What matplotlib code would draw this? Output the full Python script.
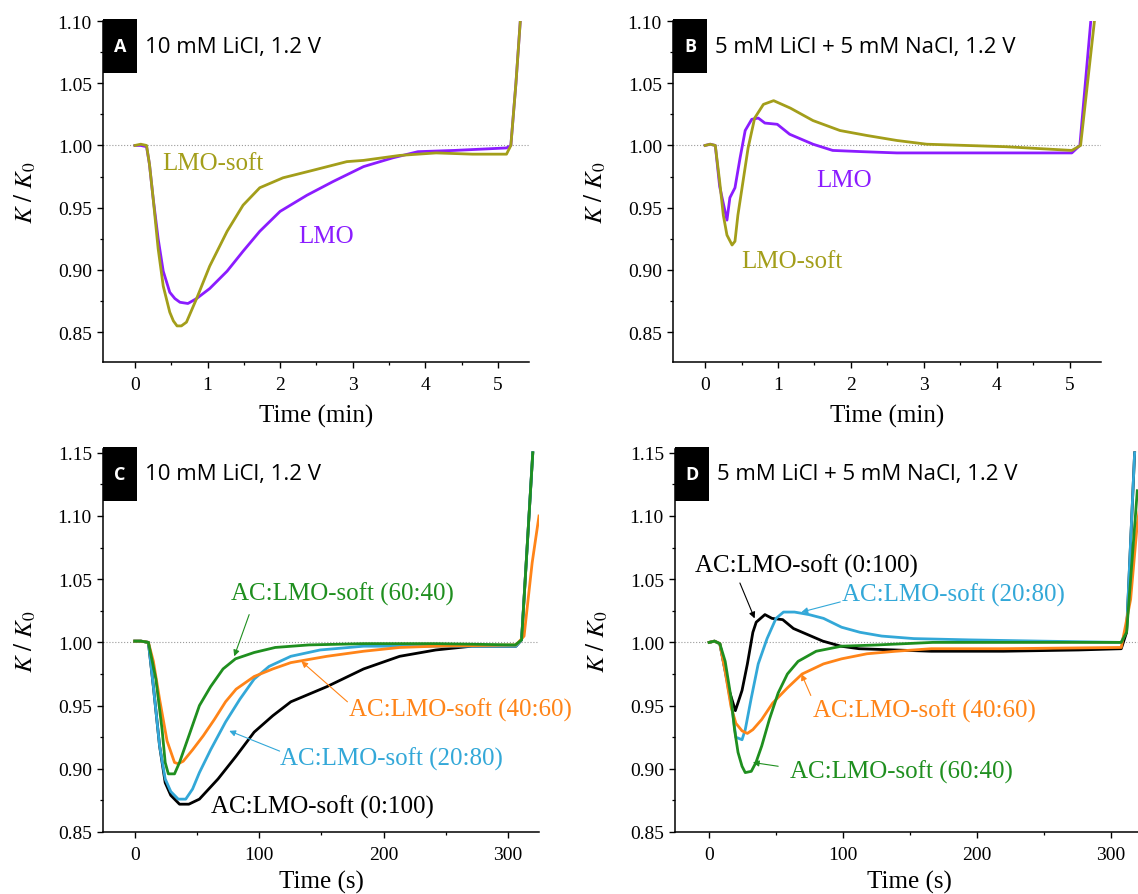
import matplotlib
matplotlib.use('Agg')
import matplotlib.pyplot as plt
from matplotlib.patches import Rectangle
from matplotlib.ticker import MultipleLocator, FormatStrFormatter

plt.rcParams['font.family'] = ['Liberation Serif', 'DejaVu Serif']
plt.rcParams['mathtext.fontset'] = 'stix'

# colours
c_lmo = '#8B1CFF'
c_soft = '#A39E1A'
c_0100 = '#000000'
c_2080 = '#33A8D8'
c_4060 = '#FF8418'
c_6040 = '#1F8F1F'

# ---- panel A: 10 mM LiCl (time in min)
a_soft_t = [0, 0.08, 0.16, 0.2, 0.25, 0.32, 0.39, 0.48, 0.53, 0.58, 0.64, 0.71, 0.85, 1.03, 1.27, 1.49, 1.72,
            2.04, 2.45, 2.92, 3.15, 3.65, 4.15, 4.65, 5.12, 5.18, 5.25, 5.31]
a_soft_y = [1.000, 1.001, 1.000, 0.985, 0.958, 0.917, 0.887, 0.866, 0.859, 0.855, 0.855, 0.858, 0.877, 0.903, 0.931,
            0.952, 0.966, 0.974, 0.980, 0.987, 0.988, 0.992, 0.994, 0.993, 0.993, 1.000, 1.050, 1.100]
a_lmo_t = [0, 0.08, 0.16, 0.2, 0.25, 0.32, 0.39, 0.48, 0.55, 0.62, 0.73, 0.85, 1.03, 1.27, 1.49, 1.72,
           2.0, 2.37, 2.73, 3.15, 3.55, 3.9, 4.4, 5.12, 5.18, 5.25, 5.31]
a_lmo_y = [1.000, 1.000, 0.999, 0.985, 0.958, 0.925, 0.899, 0.882, 0.877, 0.874, 0.873, 0.877, 0.885, 0.899,
           0.915, 0.931, 0.947, 0.960, 0.971, 0.983, 0.990, 0.995, 0.996, 0.998, 1.000, 1.050, 1.100]

# ---- panel B: 5 mM LiCl + 5 mM NaCl (time in min)
b_soft_t = [0, 0.07, 0.14, 0.2, 0.25, 0.3, 0.37, 0.41, 0.45, 0.52, 0.59, 0.68, 0.8, 0.94, 1.17,
            1.48, 1.85, 2.22, 2.63, 3.04, 4.12, 5.03, 5.15, 5.34]
b_soft_y = [1.000, 1.001, 1.000, 0.971, 0.944, 0.928, 0.920, 0.923, 0.944, 0.971, 0.998, 1.022,
            1.033, 1.036, 1.030, 1.020, 1.012, 1.008, 1.004, 1.001, 0.999, 0.996, 1.000, 1.100]
b_lmo_t = [0, 0.07, 0.14, 0.2, 0.3, 0.34, 0.41, 0.48, 0.55, 0.64, 0.73, 0.82, 0.99, 1.16, 1.48,
           1.75, 2.16, 2.63, 3.14, 4.12, 5.03, 5.14, 5.29]
b_lmo_y = [1.000, 1.001, 1.000, 0.967, 0.940, 0.958, 0.966, 0.990, 1.012, 1.021, 1.022, 1.018,
           1.017, 1.009, 1.001, 0.996, 0.995, 0.994, 0.994, 0.994, 0.994, 1.000, 1.100]

# ---- panel C: 10 mM LiCl, AC:LMO-soft blends (time in s)
c_0100_t = [0, 5, 11, 15, 20, 24.5, 29, 36, 43.5, 52, 67, 81.5, 96, 111, 125.5, 154.5, 184, 213,
            242, 271, 306.5, 311, 320]
c_0100_y = [1.001, 1.001, 1.000, 0.965, 0.918, 0.889, 0.879, 0.872, 0.872, 0.876, 0.892, 0.910,
            0.929, 0.942, 0.953, 0.965, 0.979, 0.989, 0.994, 0.997, 0.997, 1.002, 1.150]
c_2080_t = [0, 5, 11, 15, 20, 24.5, 29, 35, 41, 46.5, 52, 61, 73, 84.5, 96, 108, 125.5, 149, 184,
            243, 306.5, 311, 320]
c_2080_y = [1.001, 1.001, 1.000, 0.965, 0.918, 0.892, 0.882, 0.876, 0.876, 0.884, 0.897, 0.915,
            0.937, 0.955, 0.971, 0.981, 0.989, 0.994, 0.997, 0.997, 0.997, 1.002, 1.150]
c_4060_t = [0, 5, 11, 15, 20, 26, 32, 35, 39, 46.5, 55, 64, 73, 81.5, 96, 111, 125.5, 154.5, 184,
            213, 242, 306.5, 313, 319.5, 325]
c_4060_y = [1.001, 1.001, 1.000, 0.985, 0.955, 0.922, 0.905, 0.904, 0.906, 0.915, 0.926, 0.939,
            0.953, 0.963, 0.973, 0.979, 0.984, 0.989, 0.993, 0.996, 0.997, 0.998, 1.005, 1.063, 1.100]
c_6040_t = [0, 5, 11, 17, 22, 24.5, 27, 32, 36, 43.5, 52, 61, 71, 81, 96, 113, 140, 184, 243, 306,
            311, 320]
c_6040_y = [1.001, 1.001, 1.000, 0.971, 0.931, 0.905, 0.896, 0.896, 0.905, 0.926, 0.950, 0.965,
            0.979, 0.987, 0.992, 0.996, 0.998, 0.999, 0.999, 0.998, 1.002, 1.150]

# ---- panel D: 5 mM LiCl + 5 mM NaCl, AC:LMO-soft blends (time in s)
d_0100_t = [0, 4, 8, 15, 19.6, 21.5, 24.6, 28.6, 32.7, 35.2, 41.7, 47, 55, 63, 74, 85, 98.5, 112,
            139, 166, 220, 276, 308, 312, 318]
d_0100_y = [1.000, 1.001, 0.999, 0.962, 0.946, 0.952, 0.962, 0.983, 1.008, 1.016, 1.022, 1.019,
            1.018, 1.011, 1.006, 1.001, 0.997, 0.995, 0.994, 0.993, 0.993, 0.994, 0.995, 1.008, 1.150]
d_2080_t = [0, 4, 8, 12, 17.6, 20, 24.6, 27, 31.5, 36.7, 43.3, 50, 55.6, 63.8, 74.6, 85.5, 99,
            112.7, 129, 153, 194, 248, 308, 312, 318]
d_2080_y = [1.000, 1.001, 0.999, 0.977, 0.944, 0.925, 0.923, 0.931, 0.956, 0.983, 1.003, 1.019,
            1.024, 1.024, 1.022, 1.019, 1.012, 1.008, 1.005, 1.003, 1.002, 1.001, 1.000, 1.010, 1.150]
d_4060_t = [0, 4, 8, 12, 16.4, 20, 24.6, 28.6, 32.7, 39.3, 47.5, 58.5, 69.5, 85.5, 99, 118, 139.5,
            166, 220, 308, 315, 320, 325]
d_4060_y = [1.000, 1.001, 0.999, 0.977, 0.949, 0.936, 0.930, 0.928, 0.931, 0.939, 0.952, 0.964,
            0.975, 0.983, 0.987, 0.991, 0.993, 0.995, 0.995, 0.996, 1.034, 1.094, 1.130]
d_6040_t = [0, 4, 8, 12, 16.4, 19, 21.6, 24.6, 27, 31.5, 35, 39.3, 45, 51.6, 58.5, 66.5, 80, 99,
            126, 167, 220, 308, 312, 320]
d_6040_y = [1.000, 1.001, 0.999, 0.985, 0.956, 0.931, 0.913, 0.902, 0.897, 0.898, 0.905, 0.918,
            0.939, 0.960, 0.975, 0.985, 0.993, 0.997, 0.998, 1.000, 1.000, 1.000, 1.008, 1.120]

W, H = 1138, 895
fig = plt.figure(figsize=(W / 100, H / 100), dpi=100)


def px_axes(left, top, right, bottom):
    # axes box given in pixel coords of the picture
    return fig.add_axes([left / W, 1 - bottom / H, (right - left) / W, (bottom - top) / H])


axA = px_axes(103, 22, 529, 363)
axB = px_axes(673, 22, 1101, 363)
axC = px_axes(103, 450, 539, 833)
axD = px_axes(675, 450, 1144, 833)

lw = 2.0
axA.plot(a_lmo_t, a_lmo_y, color=c_lmo, lw=lw)
axA.plot(a_soft_t, a_soft_y, color=c_soft, lw=lw)
axB.plot(b_lmo_t, b_lmo_y, color=c_lmo, lw=lw)
axB.plot(b_soft_t, b_soft_y, color=c_soft, lw=lw)

axC.plot(c_0100_t, c_0100_y, color=c_0100, lw=lw)
axC.plot(c_2080_t, c_2080_y, color=c_2080, lw=lw)
axC.plot(c_4060_t, c_4060_y, color=c_4060, lw=lw)
axC.plot(c_6040_t, c_6040_y, color=c_6040, lw=lw)

axD.plot(d_0100_t, d_0100_y, color=c_0100, lw=lw)
axD.plot(d_2080_t, d_2080_y, color=c_2080, lw=lw)
axD.plot(d_4060_t, d_4060_y, color=c_4060, lw=lw)
axD.plot(d_6040_t, d_6040_y, color=c_6040, lw=lw)

for ax in (axA, axB):
    ax.set_xlim(-0.44, 5.43)
    ax.set_ylim(0.826, 1.10)
    ax.xaxis.set_major_locator(MultipleLocator(1))
    ax.xaxis.set_minor_locator(MultipleLocator(0.5))
    ax.set_xlabel('Time (min)', fontsize=18, labelpad=8)
for ax in (axC, axD):
    ax.set_xlim(-25.5, 325)
    ax.set_ylim(0.85, 1.153)
    ax.xaxis.set_major_locator(MultipleLocator(100))
    ax.xaxis.set_minor_locator(MultipleLocator(50))
    ax.set_xlabel('Time (s)', fontsize=18, labelpad=5)

for ax in (axA, axB, axC, axD):
    ax.yaxis.set_major_locator(MultipleLocator(0.05))
    ax.yaxis.set_minor_locator(MultipleLocator(0.025))
    ax.yaxis.set_major_formatter(FormatStrFormatter('%.2f'))
    ax.spines['top'].set_visible(False)
    ax.spines['right'].set_visible(False)
    for s in ('left', 'bottom'):
        ax.spines[s].set_linewidth(1.1)
    ax.tick_params(which='major', direction='out', length=4, width=1.0, labelsize=14, pad=4)
    ax.tick_params(which='major', axis='x', pad=6)
    ax.tick_params(which='minor', direction='out', length=2.5, width=0.9)
    ax.axhline(1.0, color='#9a9a9a', lw=0.8, ls=':', zorder=0)
    ax.set_ylabel(r'$K\ /\ K_0$', fontsize=18, labelpad=14)


def panel_tag(ax, letter, text):
    pos = ax.get_position()
    bw, bh = 34 / W, 54 / H
    x0 = pos.x0
    y1 = pos.y1 + 2 / H
    fig.patches.append(Rectangle((x0, y1 - bh), bw, bh, transform=fig.transFigure,
                                 facecolor='black', edgecolor='none', zorder=5))
    yc = y1 - bh / 2
    fig.text(x0 + bw / 2, yc, letter, color='white', fontsize=13, fontweight='bold',
             family='Open Sans', ha='center', va='center', zorder=6)
    fig.text(x0 + bw + 8 / W, yc, text, color='black', fontsize=16,
             family='Open Sans', ha='left', va='center', zorder=6)


panel_tag(axA, 'A', '10 mM LiCl, 1.2 V')
panel_tag(axB, 'B', '5 mM LiCl + 5 mM NaCl, 1.2 V')
panel_tag(axC, 'C', '10 mM LiCl, 1.2 V')
panel_tag(axD, 'D', '5 mM LiCl + 5 mM NaCl, 1.2 V')

fs = 18
axA.text(0.38, 0.986, 'LMO-soft', color=c_soft, fontsize=fs, va='center')
axA.text(2.25, 0.927, 'LMO', color=c_lmo, fontsize=fs, va='center')
axB.text(1.53, 0.972, 'LMO', color=c_lmo, fontsize=fs, va='center')
axB.text(0.50, 0.907, 'LMO-soft', color=c_soft, fontsize=fs, va='center')


def arrow(ax, head, tail, color):
    ax.annotate('', xy=head, xytext=tail,
                arrowprops=dict(arrowstyle='-|>', color=color, lw=0.8,
                                mutation_scale=9, shrinkA=0, shrinkB=0))


axC.text(77, 1.039, 'AC:LMO-soft (60:40)', color=c_6040, fontsize=fs, va='center')
arrow(axC, (80, 0.989), (92, 1.022), c_6040)
axC.text(172, 0.947, 'AC:LMO-soft (40:60)', color=c_4060, fontsize=fs, va='center', clip_on=False)
arrow(axC, (134, 0.985), (171, 0.953), c_4060)
axC.text(116.5, 0.908, 'AC:LMO-soft (20:80)', color=c_2080, fontsize=fs, va='center')
arrow(axC, (76, 0.930), (116.5, 0.914), c_2080)
axC.text(61, 0.870, 'AC:LMO-soft (0:100)', color=c_0100, fontsize=fs, va='center')

axD.text(-10.5, 1.061, 'AC:LMO-soft (0:100)', color=c_0100, fontsize=fs, va='center')
arrow(axD, (34, 1.019), (23, 1.047), c_0100)
axD.text(99, 1.038, 'AC:LMO-soft (20:80)', color=c_2080, fontsize=fs, va='center')
arrow(axD, (69, 1.024), (98, 1.032), c_2080)
axD.text(77.5, 0.946, 'AC:LMO-soft (40:60)', color=c_4060, fontsize=fs, va='center')
arrow(axD, (69, 0.975), (76, 0.958), c_4060)
axD.text(60.5, 0.898, 'AC:LMO-soft (60:40)', color=c_6040, fontsize=fs, va='center')
arrow(axD, (32.7, 0.905), (51.6, 0.902), c_6040)

fig.savefig('out.png', dpi=100)
